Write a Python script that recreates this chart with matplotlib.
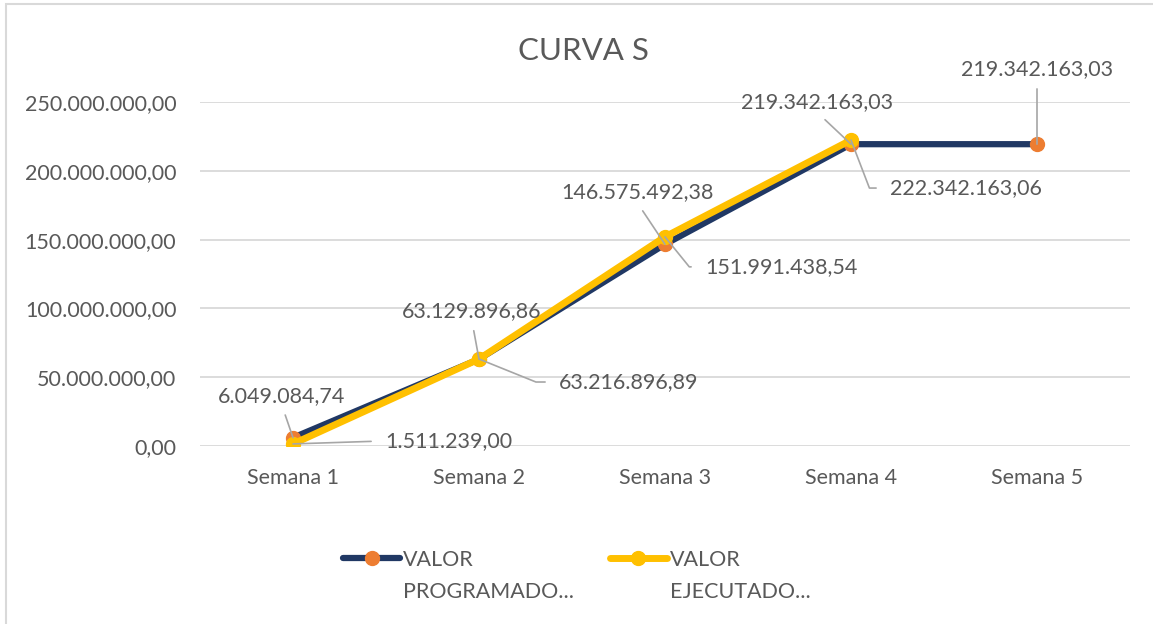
import matplotlib.pyplot as plt
from matplotlib.patches import Rectangle
from matplotlib.ticker import FuncFormatter

# data
semanas = ["Semana 1", "Semana 2", "Semana 3", "Semana 4", "Semana 5"]
programado = [6049084.74, 63129896.86, 146575492.38, 219342163.03, 219342163.03]
ejecutado = [1511239.00, 63216896.89, 151991438.54, 222342163.06]
y_ticks = [0, 50e6, 100e6, 150e6, 200e6, 250e6]
serie_1 = ["VALOR", "PROGRAMADO..."]
serie_2 = ["VALOR", "EJECUTADO..."]

NAVY = "#203864"
ORANGE = "#ED7D31"
YELLOW = "#FFC000"
TXT = "#595959"
GRID = "#D9D9D9"
LEAD = "#A6A6A6"
FS = 15.5

plt.rcParams['font.family'] = ['Lato', 'DejaVu Sans']


def fmt_es(v):
    s = "{:,.2f}".format(v)
    return s.replace(",", "X").replace(".", ",").replace("X", ".")


fig = plt.figure(figsize=(11.53, 6.24), dpi=100)
fig.patches.append(Rectangle((6 / 1153, -0.01), 1.1, 1.0 - 4 / 624 + 0.01,
                             transform=fig.transFigure, fill=False,
                             edgecolor="#D9D9D9", linewidth=1.5))

ax = fig.add_axes([200 / 1153, 178 / 624, 930 / 1153, 344 / 624])
x1 = list(range(len(programado)))
x2 = list(range(len(ejecutado)))

ax.plot(x1, programado, color=NAVY, lw=4.5, marker='o', ms=10,
        mfc=ORANGE, mec=ORANGE, solid_capstyle='round', label=serie_1[0])
ax.plot(x2, ejecutado, color=YELLOW, lw=5, marker='o', ms=10,
        mfc=YELLOW, mec=YELLOW, solid_capstyle='round', label=serie_2[0])

ax.set_xlim(-0.5, 4.5)
ax.set_ylim(0, 250e6)
ax.set_yticks(y_ticks)
ax.yaxis.set_major_formatter(FuncFormatter(lambda v, p: fmt_es(v)))
ax.set_xticks(x1)
ax.set_xticklabels(semanas)
ax.tick_params(length=0, labelsize=FS, labelcolor=TXT)
ax.tick_params(axis='y', pad=17)
ax.tick_params(axis='x', pad=16)
ax.grid(axis='y', color=GRID, lw=1.3)
ax.set_axisbelow(True)
for sp in ax.spines.values():
    sp.set_visible(False)

fig.text(583 / 1153, 1 - 51 / 624, "CURVA S", ha='center', va='center',
         fontsize=22.5, color=TXT)

lab_kw = dict(textcoords='offset pixels', fontsize=FS, color=TXT)


def above(i, v, dx, dy):
    ax.annotate(fmt_es(v), (i, v), xytext=(dx, dy), ha='center', va='center',
                arrowprops=dict(arrowstyle='-', color=LEAD, lw=1.2,
                                shrinkA=5, shrinkB=0, relpos=(0.5, 0)),
                **lab_kw)


def right(i, v, dx, dy, ang):
    ax.annotate(fmt_es(v), (i, v), xytext=(dx, dy), ha='left', va='center',
                arrowprops=dict(arrowstyle='-', color=LEAD, lw=1.2,
                                shrinkA=8, shrinkB=0, relpos=(0, 0.5),
                                connectionstyle="angle,angleA=0,angleB=%d,rad=0" % ang),
                **lab_kw)


above(0, programado[0], -11, 42)
above(1, programado[1], -7, 48)
above(2, programado[2], -28, 52)
above(3, programado[3], -34, 42)
above(4, programado[4], 0, 75)

ax.annotate(fmt_es(ejecutado[0]), (0, ejecutado[0]), xytext=(92, 3),
            ha='left', va='center',
            arrowprops=dict(arrowstyle='-', color=LEAD, lw=1.2, shrinkA=8,
                            shrinkB=0, relpos=(0, 0.5)), **lab_kw)
right(1, ejecutado[1], 80, -23, -22)
right(2, ejecutado[2], 40, -30, -51)
right(3, ejecutado[3], 39, -48, -69)

leg = fig.legend(loc='center left', bbox_to_anchor=(343 / 1153, 1 - 560 / 624),
                 ncol=2, frameon=False, fontsize=FS, labelcolor=TXT,
                 handlelength=2.65, columnspacing=6.3, handletextpad=0.15,
                 borderpad=0, borderaxespad=0)

# second line of each legend label
fig.canvas.draw()
for t, second in zip(leg.get_texts(), [serie_1[1], serie_2[1]]):
    bb = t.get_window_extent()
    fig.text(bb.x0 / 1153, (bb.y0 + bb.y1) / 2 / 624 - 32 / 624, second,
             ha='left', va='center', fontsize=FS, color=TXT)

fig.savefig("out.png", dpi=100)
